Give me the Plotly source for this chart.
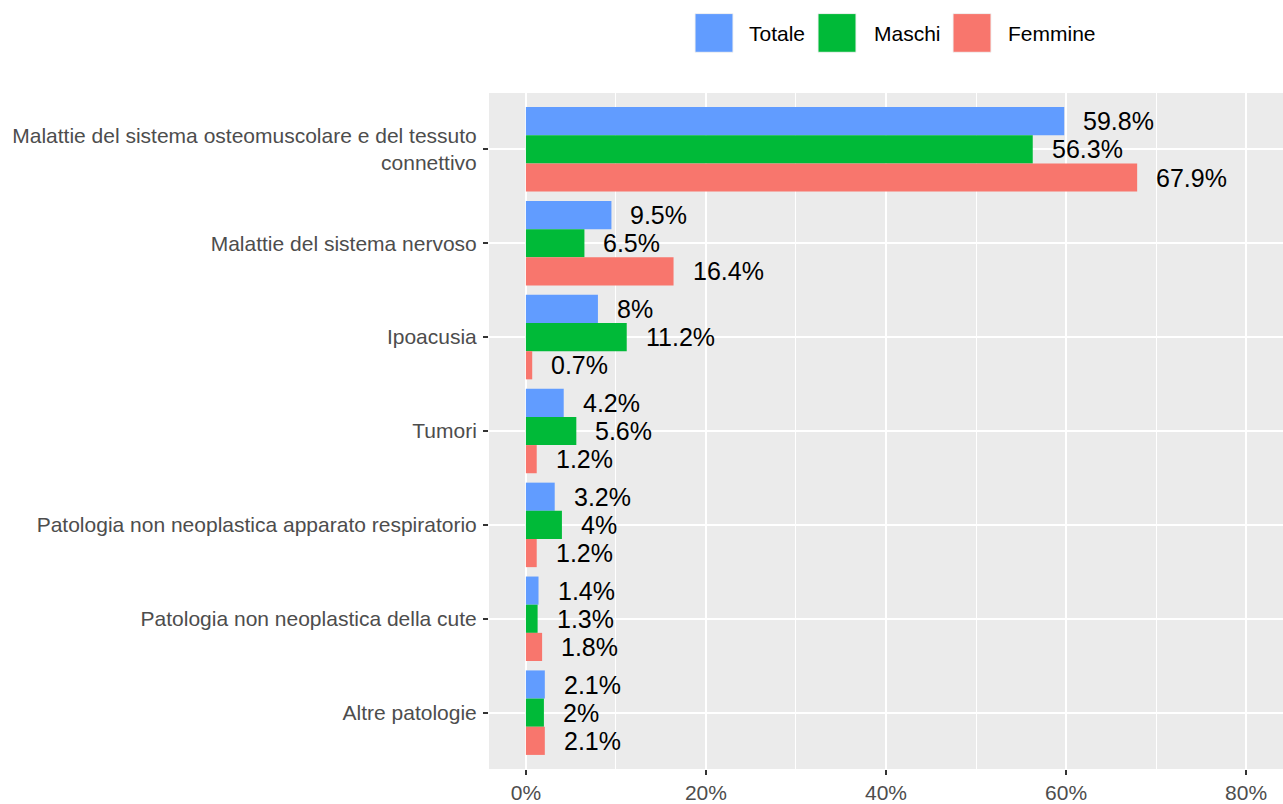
import plotly.graph_objects as go

categories = [
    "Malattie del sistema osteomuscolare e del tessuto<br>connettivo",
    "Malattie del sistema nervoso",
    "Ipoacusia",
    "Tumori",
    "Patologia non neoplastica apparato respiratorio",
    "Patologia non neoplastica della cute",
    "Altre patologie",
]
totale = [59.8, 9.5, 8.0, 4.2, 3.2, 1.4, 2.1]
maschi = [56.3, 6.5, 11.2, 5.6, 4.0, 1.3, 2.0]
femmine = [67.9, 16.4, 0.7, 1.2, 1.2, 1.8, 2.1]
series_names = ["Totale", "Maschi", "Femmine"]
series_colors = ["#619CFF", "#00BA38", "#F8766D"]
x_ticks = [0, 20, 40, 60, 80]
x_tick_labels = ["0%", "20%", "40%", "60%", "80%"]

FONT = "Liberation Sans, Arial, sans-serif"
W, H = 1283, 804
ML, MR, MT, MB = 489, 0, 93, 30
PW, PH = W - ML - MR, H - MT - MB

fig = go.Figure()
series = [totale, maschi, femmine]
for name, vals, col in zip(series_names, series, series_colors):
    fig.add_trace(go.Bar(
        y=categories, x=vals, name=name, orientation="h",
        marker=dict(color=col, line=dict(width=0)),
        showlegend=False, hoverinfo="x+y",
    ))

annotations = []
offsets = [-0.3, 0.0, 0.3]
for k, vals in enumerate(series):
    for i, v in enumerate(vals):
        annotations.append(dict(
            x=v, y=i + offsets[k], xref="x", yref="y",
            text=f"{v:g}%", showarrow=False, xanchor="left", yanchor="middle",
            xshift=17, font=dict(family=FONT, size=25, color="black"),
        ))

# manual legend (ggplot style)
shapes = []
key_left_px = [695, 818, 953]
text_left_px = [747, 872, 1006]
key_top, key_bot = 13, 52
def px_to_paper_x(px):
    return (px - ML) / PW
def px_to_paper_y(py):
    return (H - MB - py) / PH
for k in range(3):
    shapes.append(dict(
        type="rect", xref="paper", yref="paper",
        x0=px_to_paper_x(key_left_px[k]), x1=px_to_paper_x(key_left_px[k] + 38),
        y0=px_to_paper_y(key_bot), y1=px_to_paper_y(key_top),
        fillcolor=series_colors[k], line=dict(color="#F2F2F2", width=1),
    ))
    annotations.append(dict(
        x=px_to_paper_x(text_left_px[k]), y=px_to_paper_y(33),
        xref="paper", yref="paper", text=series_names[k], showarrow=False,
        xanchor="left", yanchor="middle",
        font=dict(family=FONT, size=21, color="black"),
    ))

fig.update_layout(
    width=W, height=H,
    margin=dict(l=ML, r=MR, t=MT, b=MB),
    paper_bgcolor="white", plot_bgcolor="#EBEBEB",
    barmode="group", bargap=0.1, bargroupgap=0,
    annotations=annotations, shapes=shapes,
    font=dict(family=FONT, size=21, color="#4D4D4D"),
)
fig.update_xaxes(
    range=[-4.1, 84.1], tickvals=x_ticks, ticktext=x_tick_labels,
    showgrid=True, gridcolor="white", gridwidth=2, zeroline=False,
    minor=dict(dtick=10, tick0=0, showgrid=True, gridcolor="white", gridwidth=1),
    ticks="outside", ticklen=5, tickwidth=2, tickcolor="#333333",
    tickfont=dict(family=FONT, size=21, color="#4D4D4D"), showline=False,
)
fig.update_yaxes(
    range=[6.6, -0.6], showgrid=True, gridcolor="white", gridwidth=2,
    zeroline=False, ticks="outside", ticklen=5, tickwidth=2, tickcolor="#333333",
    tickfont=dict(family=FONT, size=21, color="#4D4D4D"), showline=False,
    ticklabelstandoff=2,
)

fig.write_html(
    "out.html",
    config={"displayModeBar": False},
    post_script="document.body.style.margin='0';document.body.style.overflow='hidden';",
)
